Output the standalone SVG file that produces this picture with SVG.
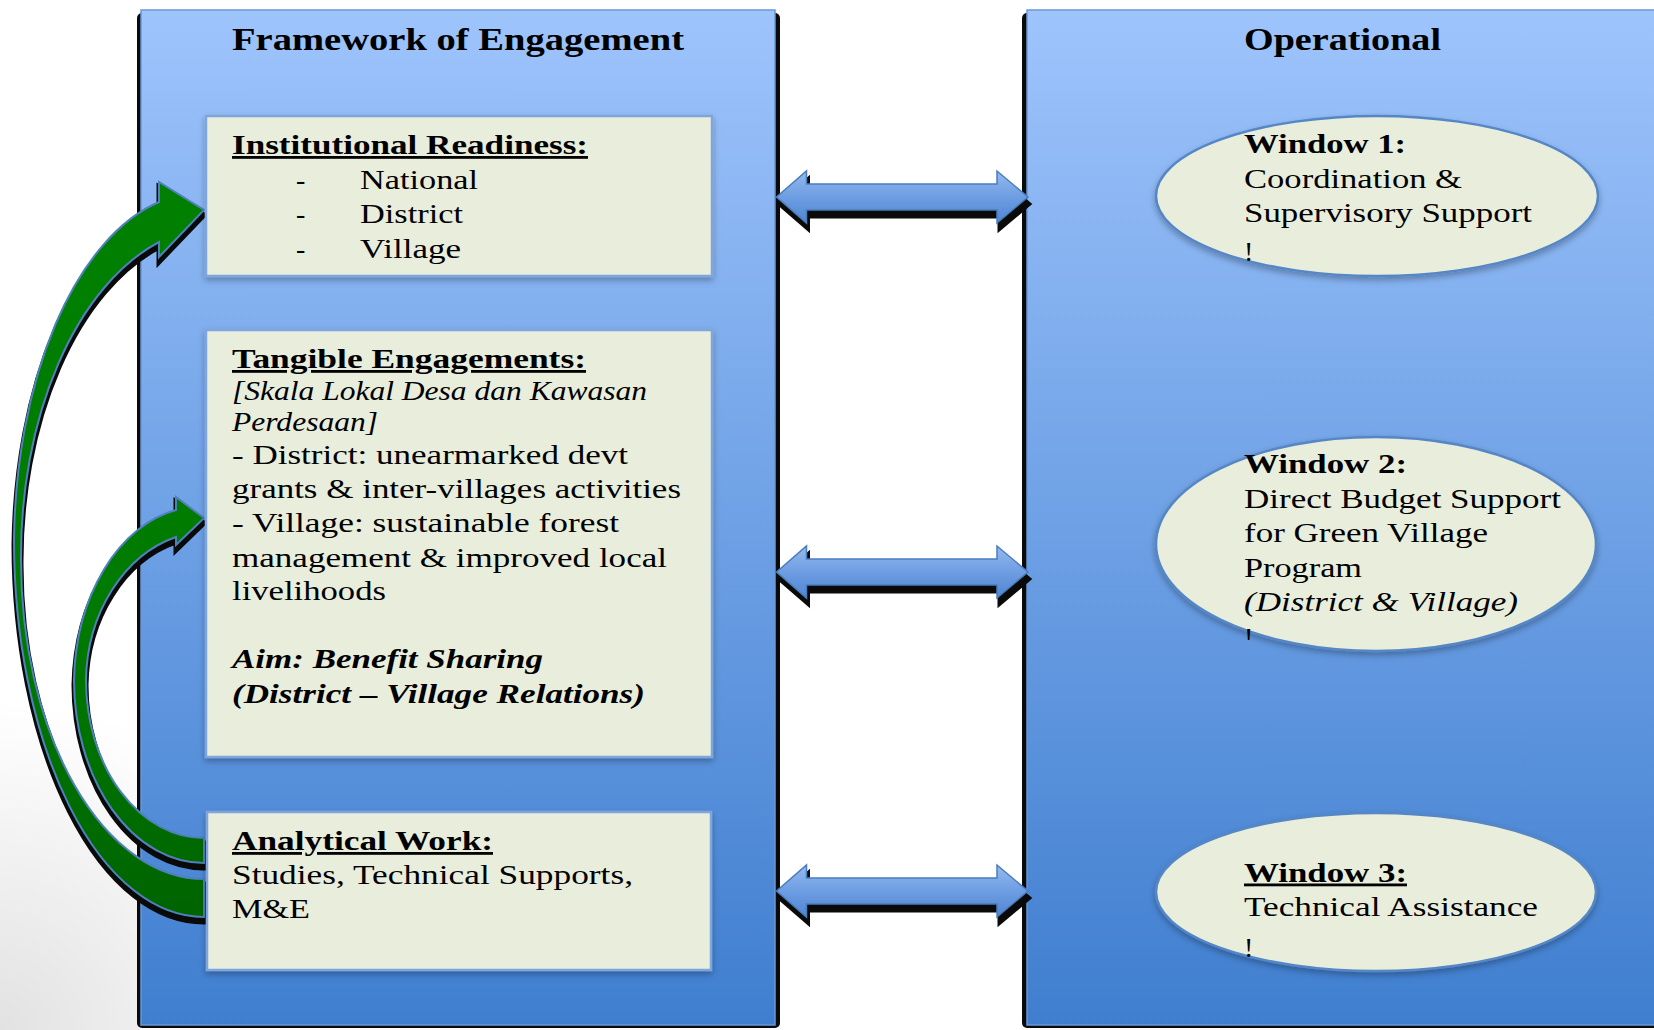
<svg xmlns="http://www.w3.org/2000/svg" xmlns:xlink="http://www.w3.org/1999/xlink" width="1654" height="1030" viewBox="0 0 1654 1030">
<defs>
<style>
.t{font-family:"Liberation Serif","Times New Roman",serif;font-size:28px;fill:#000}
.b{font-weight:bold}
.i{font-style:italic}
.u{text-decoration:underline}
.h{font-size:31px;font-weight:bold}
.panel{fill:url(#panelGrad);stroke:#6a98d8;stroke-width:1.5}
.pshadow{fill:#0a0a0a}
.box{fill:#e9eddc;stroke:#7ea6dd;stroke-width:2.5;filter:url(#soft)}
.win{fill:#e9eedc;stroke:#5486c6;stroke-width:2.5;filter:url(#soft)}
.darr{fill:url(#arrGrad);stroke:#4a7dbd;stroke-width:1.5}
.dshadow{fill:#0a0a0a;stroke:#0a0a0a;stroke-width:3}
.garr{fill:url(#greenGrad);stroke:#4f81bd;stroke-width:2}
.gshadow{fill:#0a0a0a;stroke:#0a0a0a;stroke-width:5}
</style>
<linearGradient id="panelGrad" gradientUnits="userSpaceOnUse" x1="0" y1="10" x2="0" y2="1025">
<stop offset="0" stop-color="#9ec4fc"/>
<stop offset="1" stop-color="#3f7ecf"/>
</linearGradient>
<linearGradient id="arrGrad" x1="0" y1="0" x2="0" y2="1">
<stop offset="0" stop-color="#95baef"/>
<stop offset="0.5" stop-color="#6e9de2"/>
<stop offset="1" stop-color="#4f86d2"/>
</linearGradient>
<linearGradient id="greenGrad" gradientUnits="userSpaceOnUse" x1="0" y1="180" x2="0" y2="920">
<stop offset="0" stop-color="#008000"/>
<stop offset="0.6" stop-color="#007a00"/>
<stop offset="1" stop-color="#006400"/>
</linearGradient>
<radialGradient id="bgGray" gradientUnits="userSpaceOnUse" cx="0" cy="1030" r="330">
<stop offset="0" stop-color="#e2e2e2"/>
<stop offset="1" stop-color="#ffffff"/>
</radialGradient>
<filter id="soft" x="-10%" y="-10%" width="120%" height="130%">
<feDropShadow dx="0" dy="3" stdDeviation="3" flood-color="#000" flood-opacity="0.3"/>
</filter>
<path id="dbl" d="M776.5,0 L806.5,-26 L806.5,-13 L997,-13 L997,-26 L1028,0 L997,26 L997,13 L806.5,13 L806.5,26 Z"/>
<path id="gOuter" d="M204,879 A183,319 0 0 1 21,560 A199,330 0 0 1 159,242 L159,257 L204,210 L159,182 L159,202 A186,354 0 0 0 14,540 A190,377 0 0 0 204,917 Z"/>
<path id="gInner" d="M204,838 A118,158 0 0 1 86,680 A124,152 0 0 1 176,537 L176,545 L204,518 L176,497 L176,510 A126,178 0 0 0 74,680 A130,183 0 0 0 204,863 Z"/>
<clipPath id="clipW2"><rect x="1230" y="600" width="60" height="40"/></clipPath>
<clipPath id="clipW3"><rect x="1230" y="920" width="60" height="37"/></clipPath>
</defs>

<rect x="0" y="0" width="1654" height="1030" fill="#ffffff"/>
<rect x="0" y="700" width="140" height="330" fill="url(#bgGray)"/>

<g id="panel-framework">
<rect class="pshadow" x="137" y="13" width="643" height="1015" rx="5"/>
<rect class="panel" x="141" y="10" width="634" height="1015"/>
<text class="t h" x="232" y="50" textLength="452" lengthAdjust="spacingAndGlyphs">Framework of Engagement</text>
</g>

<g id="panel-operational">
<rect class="pshadow" x="1022" y="13" width="700" height="1015" rx="5"/>
<rect class="panel" x="1027" y="10" width="700" height="1015"/>
<text class="t h" x="1244" y="50" textLength="197" lengthAdjust="spacingAndGlyphs">Operational</text>
</g>

<g id="connectors">
<g id="link-1">
<use xlink:href="#dbl" class="dshadow" transform="translate(2,204)"/>
<use xlink:href="#dbl" class="darr" transform="translate(0,197)"/>
</g>
<g id="link-2">
<use xlink:href="#dbl" class="dshadow" transform="translate(2,579)"/>
<use xlink:href="#dbl" class="darr" transform="translate(0,572)"/>
</g>
<g id="link-3">
<use xlink:href="#dbl" class="dshadow" transform="translate(2,898)"/>
<use xlink:href="#dbl" class="darr" transform="translate(0,891)"/>
</g>
<g id="curve-analytical-institutional">
<use xlink:href="#gOuter" class="gshadow" transform="translate(0,5)"/>
<use xlink:href="#gOuter" class="garr"/>
</g>
<g id="curve-analytical-tangible">
<use xlink:href="#gInner" class="gshadow" transform="translate(0,5)"/>
<use xlink:href="#gInner" class="garr"/>
</g>
</g>

<g id="box-institutional">
<rect class="box" x="206" y="116" width="506" height="160"/>
<text class="t b u" x="232" y="154" textLength="356" lengthAdjust="spacingAndGlyphs">Institutional Readiness:</text>
<text class="t" x="296" y="189">-</text>
<text class="t" x="360" y="189" textLength="118" lengthAdjust="spacingAndGlyphs">National</text>
<text class="t" x="296" y="223">-</text>
<text class="t" x="360" y="223" textLength="103" lengthAdjust="spacingAndGlyphs">District</text>
<text class="t" x="296" y="257.5">-</text>
<text class="t" x="360" y="257.5" textLength="101" lengthAdjust="spacingAndGlyphs">Village</text>
</g>

<g id="box-tangible">
<rect class="box" x="206" y="330" width="506" height="427"/>
<text class="t b u" x="232" y="368" textLength="354" lengthAdjust="spacingAndGlyphs">Tangible Engagements:</text>
<text class="t i" x="232" y="400" textLength="415" lengthAdjust="spacingAndGlyphs">[Skala Lokal Desa dan Kawasan</text>
<text class="t i" x="232" y="431" textLength="146" lengthAdjust="spacingAndGlyphs">Perdesaan]</text>
<text class="t" x="232" y="464" textLength="396" lengthAdjust="spacingAndGlyphs">- District: unearmarked devt</text>
<text class="t" x="232" y="498" textLength="449" lengthAdjust="spacingAndGlyphs">grants &amp; inter-villages activities</text>
<text class="t" x="232" y="532" textLength="387" lengthAdjust="spacingAndGlyphs">- Village: sustainable forest</text>
<text class="t" x="232" y="566.5" textLength="435" lengthAdjust="spacingAndGlyphs">management &amp; improved local</text>
<text class="t" x="232" y="600" textLength="154" lengthAdjust="spacingAndGlyphs">livelihoods</text>
<text class="t b i" x="232" y="668" textLength="311" lengthAdjust="spacingAndGlyphs">Aim: Benefit Sharing</text>
<text class="t b i" x="232" y="703" textLength="413" lengthAdjust="spacingAndGlyphs">(District – Village Relations)</text>
</g>

<g id="box-analytical">
<rect class="box" x="207" y="812" width="504" height="158"/>
<text class="t b u" x="232" y="850" textLength="261" lengthAdjust="spacingAndGlyphs">Analytical Work:</text>
<text class="t" x="232" y="883.5" textLength="401" lengthAdjust="spacingAndGlyphs">Studies, Technical Supports,</text>
<text class="t" x="232" y="918" textLength="78" lengthAdjust="spacingAndGlyphs">M&amp;E</text>
</g>

<g id="window-1">
<ellipse class="win" cx="1377" cy="196" rx="221" ry="80"/>
<text class="t b" x="1244" y="153" textLength="162" lengthAdjust="spacingAndGlyphs">Window 1:</text>
<text class="t" x="1244" y="188" textLength="218" lengthAdjust="spacingAndGlyphs">Coordination &amp;</text>
<text class="t" x="1244" y="222" textLength="288" lengthAdjust="spacingAndGlyphs">Supervisory Support</text>
<text class="t" x="1244" y="261">!</text>
</g>

<g id="window-2">
<ellipse class="win" cx="1376" cy="544" rx="220" ry="107"/>
<text class="t b" x="1244" y="473" textLength="163" lengthAdjust="spacingAndGlyphs">Window 2:</text>
<text class="t" x="1244" y="508" textLength="317" lengthAdjust="spacingAndGlyphs">Direct Budget Support</text>
<text class="t" x="1244" y="542" textLength="244" lengthAdjust="spacingAndGlyphs">for Green Village</text>
<text class="t" x="1244" y="576.5" textLength="118" lengthAdjust="spacingAndGlyphs">Program</text>
<text class="t i" x="1244" y="610.5" textLength="274" lengthAdjust="spacingAndGlyphs">(District &amp; Village)</text>
<text class="t" x="1244" y="647" clip-path="url(#clipW2)">!</text>
</g>

<g id="window-3">
<ellipse class="win" cx="1376" cy="892" rx="220" ry="79"/>
<text class="t b u" x="1244" y="881.5" textLength="163" lengthAdjust="spacingAndGlyphs">Window 3:</text>
<text class="t" x="1244" y="915.5" textLength="294" lengthAdjust="spacingAndGlyphs">Technical Assistance</text>
<text class="t" x="1244" y="957" clip-path="url(#clipW3)">!</text>
</g>
</svg>
